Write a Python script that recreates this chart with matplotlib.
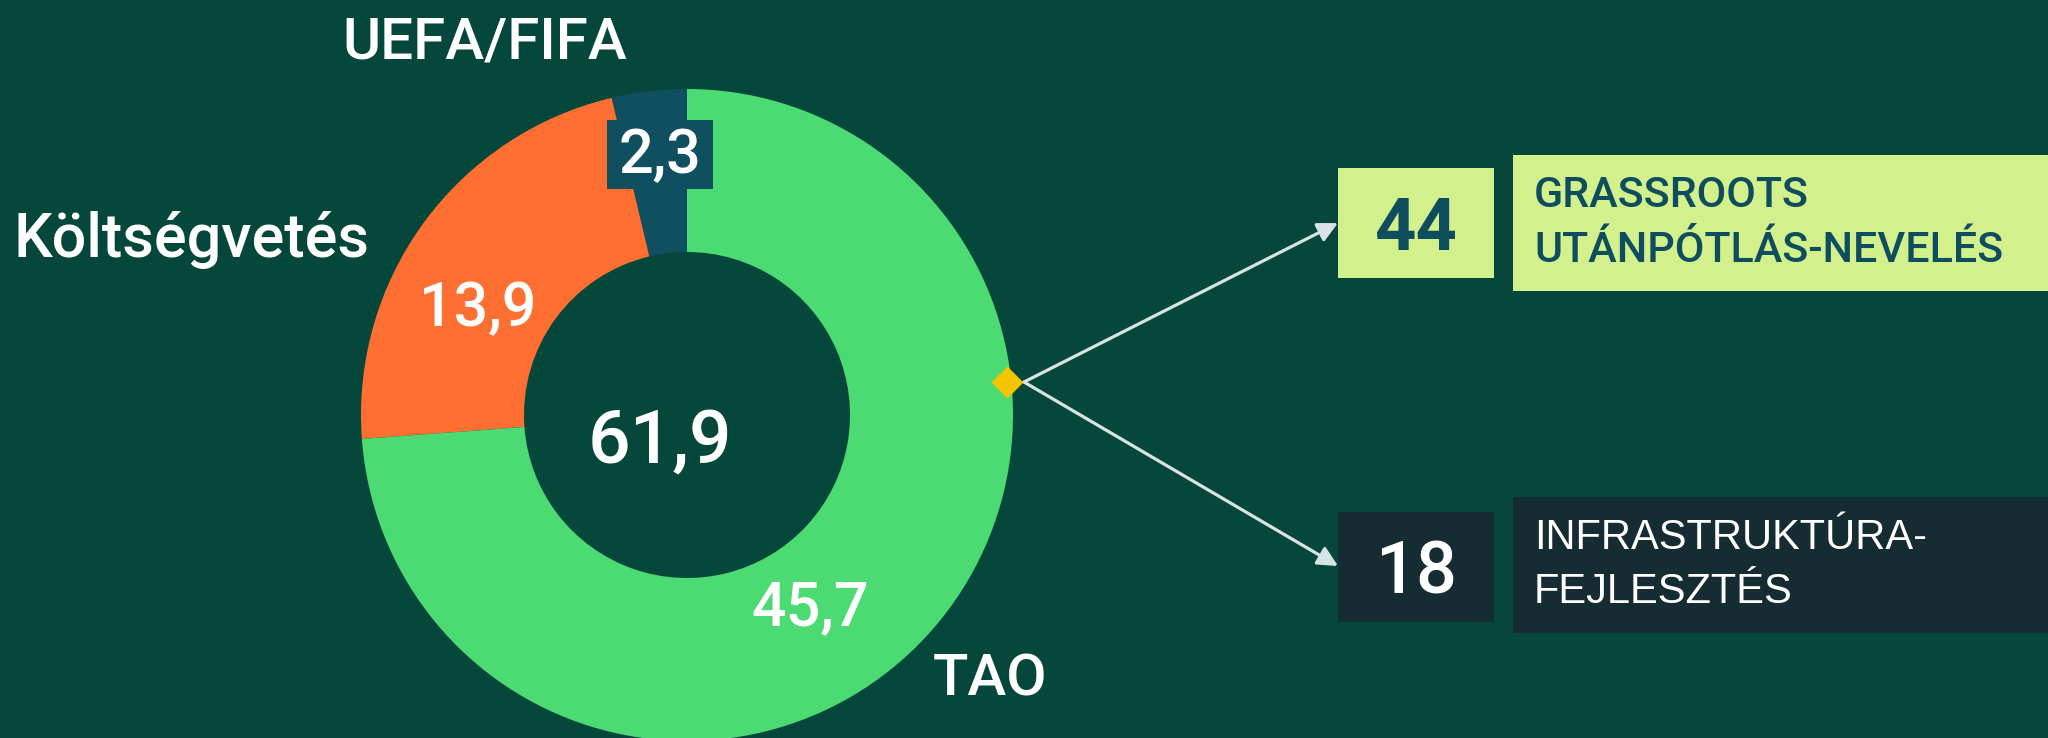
import matplotlib
matplotlib.use("Agg")
import matplotlib.pyplot as plt
from matplotlib.patches import Rectangle

# ---- data ----
categories = ["UEFA/FIFA", "Költségvetés", "TAO"]
values = [2.3, 13.9, 45.7]
colors = ["#0F4F5F", "#FF6F31", "#4CDA72"]

breakdown_labels = ["GRASSROOTS\nUTÁNPÓTLÁS-NEVELÉS", "INFRASTRUKTÚRA-\nFEJLESZTÉS"]
breakdown_values = [44, 18]

BG = "#05483B"
FONT = ["Roboto", "DejaVu Sans"]
FONT2 = ["Liberation Sans", "DejaVu Sans"]
WT = "medium"


def fmt(v):
    return f"{v:.1f}".replace(".", ",")


W, H = 2048, 738
fig = plt.figure(figsize=(W / 100, H / 100), dpi=100, facecolor=BG)

# ---- donut ----
cx, cy, r = 687, 415, 326
ax = fig.add_axes([(cx - r) / W, (H - cy - r) / H, 2 * r / W, 2 * r / H])
ax.set_facecolor("none")
ax.pie(values, colors=colors, startangle=90, counterclock=True, radius=1,
       wedgeprops=dict(width=0.5, linewidth=0))
ax.set_xlim(-1, 1)
ax.set_ylim(-1, 1)
ax.axis("off")

# ---- overlay in pixel space ----
ov = fig.add_axes([0, 0, 1, 1], zorder=5)
ov.set_xlim(0, W)
ov.set_ylim(H, 0)
ov.axis("off")
ov.set_facecolor("none")

# value labels on the donut
ov.add_patch(Rectangle((607, 120), 106, 69, color=colors[0], lw=0))
value_pos = [(660, 173), (478, 326), (810, 625)]
for v, (x, y) in zip(values, value_pos):
    ov.text(x, y, fmt(v), color="white", fontsize=44, family=FONT, weight=WT,
            ha="center", va="baseline")

# total in the centre
ov.text(660, 463, fmt(sum(values)), color="white", fontsize=54, family=FONT,
        weight=WT, ha="center", va="baseline")

# category labels
ov.text(485, 58, categories[0], color="white", fontsize=42, family=FONT,
        weight=WT, ha="center", va="baseline")
ov.text(14, 257, categories[1], color="white", fontsize=44, family=FONT,
        weight=WT, ha="left", va="baseline")
ov.text(990, 696, categories[2], color="white", fontsize=42, family=FONT,
        weight=WT, ha="center", va="baseline")

# arrows from the marker on the TAO slice
start = (1024, 382)
targets = [(1338, 223), (1338, 566)]
for t in targets:
    ov.annotate("", xy=t, xytext=start,
                arrowprops=dict(arrowstyle="-|>,head_length=0.6,head_width=0.3",
                                color="#D9E2E5", lw=2.3, mutation_scale=20,
                                shrinkA=0, shrinkB=0))
ov.plot([1007], [382], marker="D", ms=16, color="#F2C500", mec="none", zorder=10)

# breakdown boxes
box_styles = [
    dict(face="#D2F08C", text="#0E4D5E", weight="bold", lfont=FONT,
         lw="medium", lsize=31),
    dict(face="#162C33", text="white", weight="medium", lfont=FONT2,
         lw="normal", lsize=30),
]
num_boxes = [(1338, 168, 156, 110), (1338, 512, 156, 110)]
lab_boxes = [(1513, 155, 535, 136), (1513, 497, 535, 136)]
for lab, val, st, nb, lb in zip(breakdown_labels, breakdown_values, box_styles,
                                num_boxes, lab_boxes):
    ov.add_patch(Rectangle((nb[0], nb[1]), nb[2], nb[3], color=st["face"], lw=0))
    ov.add_patch(Rectangle((lb[0], lb[1]), lb[2], lb[3], color=st["face"], lw=0))
    ov.text(nb[0] + nb[2] / 2, nb[1] + nb[3] / 2, str(val), color=st["text"],
            fontsize=52, family=FONT, weight=st["weight"],
            ha="center", va="center_baseline")
    ov.text(lb[0] + 21, lb[1] + lb[3] / 2, lab, color=st["text"],
            fontsize=st["lsize"], family=st["lfont"], weight=st["lw"],
            ha="left", va="center", linespacing=1.45)

fig.savefig("out.png", dpi=100, facecolor=BG)
